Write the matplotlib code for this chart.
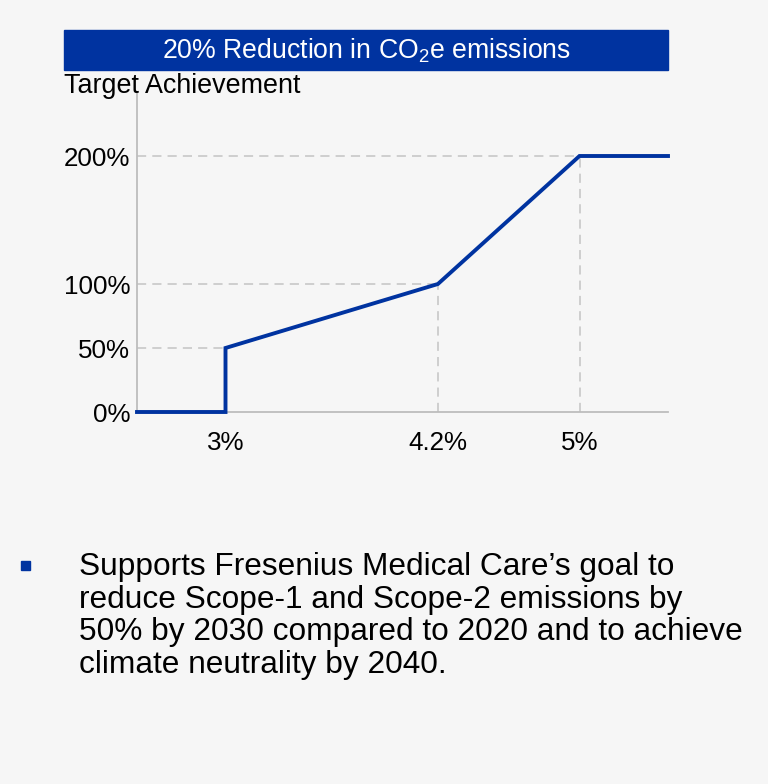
import matplotlib
matplotlib.use('Agg')
from matplotlib import pyplot as plt
from matplotlib.patches import Rectangle

# payout curve: emission reduction vs target achievement
reduction = [2.5, 3.0, 3.0, 4.2, 5.0, 5.5]
achievement = [0, 0, 50, 100, 200, 200]
x_ticks = [3.0, 4.2, 5.0]
x_labels = ['3%', '4.2%', '5%']
y_ticks = [0, 50, 100, 200]
y_labels = ['0%', '50%', '100%', '200%']
# guide lines drawn to these curve points
guide_pts = [(3.0, 50), (4.2, 100), (5.0, 200)]

title = '20% Reduction in CO$_{\\mathregular{2}}$e emissions'
note_lines = ['Supports Fresenius Medical Care\u2019s goal to',
              'reduce Scope-1 and Scope-2 emissions by',
              '50% by 2030 compared to 2020 and to achieve',
              'climate neutrality by 2040.']

plt.rcParams['font.family'] = ['Liberation Sans', 'DejaVu Sans']
plt.rcParams['mathtext.fontset'] = 'custom'
plt.rcParams['mathtext.rm'] = 'Liberation Sans'

blue = '#0033a0'
grey = '#c4c4c4'
bg = '#f6f6f6'

fig = plt.figure(figsize=(7.68, 7.84), dpi=100, facecolor=bg)
ax = fig.add_axes([137/768, 1-412/784, (668-137)/768, (412-92)/784])
ax.set_facecolor(bg)

for gx, gy in guide_pts:
    ax.plot([2.5, gx], [gy, gy], color=grey, lw=1.1, ls=(0, (6, 4)), zorder=1)
    if gx != 3.0:
        ax.plot([gx, gx], [0, gy], color=grey, lw=1.1, ls=(0, (6, 4)), zorder=1)

ax.plot(reduction, achievement, color=blue, lw=2.8, zorder=3, clip_on=False,
        solid_joinstyle='miter')

ax.set_xlim(2.5, 5.5)
ax.set_ylim(0, 250)
ax.set_xticks(x_ticks)
ax.set_xticklabels(x_labels)
ax.set_yticks(y_ticks)
ax.set_yticklabels(y_labels)
ax.tick_params(axis='both', length=0, labelsize=18.7, colors='black')
ax.tick_params(axis='x', pad=14)
ax.tick_params(axis='y', pad=5)
for s in ['top', 'right']:
    ax.spines[s].set_visible(False)
for s in ['left', 'bottom']:
    ax.spines[s].set_color('#bdbdbd')
    ax.spines[s].set_linewidth(1.3)

# header bar
fig.patches.append(Rectangle((64/768, 1-70/784), (668-64)/768, 40/784,
                             transform=fig.transFigure, color=blue, zorder=0))
fig.text(366/768, 1-51/784, title, color='white', fontsize=19.2,
         ha='center', va='center')
fig.text(64/768, 1-93/784, 'Target Achievement', fontsize=19.4,
         ha='left', va='baseline')

# bullet note
fig.patches.append(Rectangle((21/768, 1-570/784), 9/768, 9/784,
                             transform=fig.transFigure, color=blue))
for i, line in enumerate(note_lines):
    fig.text(79/768, 1-(575 + 32.7*i)/784, line, fontsize=22.8,
             ha='left', va='baseline')

plt.savefig('out.png', dpi=100, facecolor=bg)
